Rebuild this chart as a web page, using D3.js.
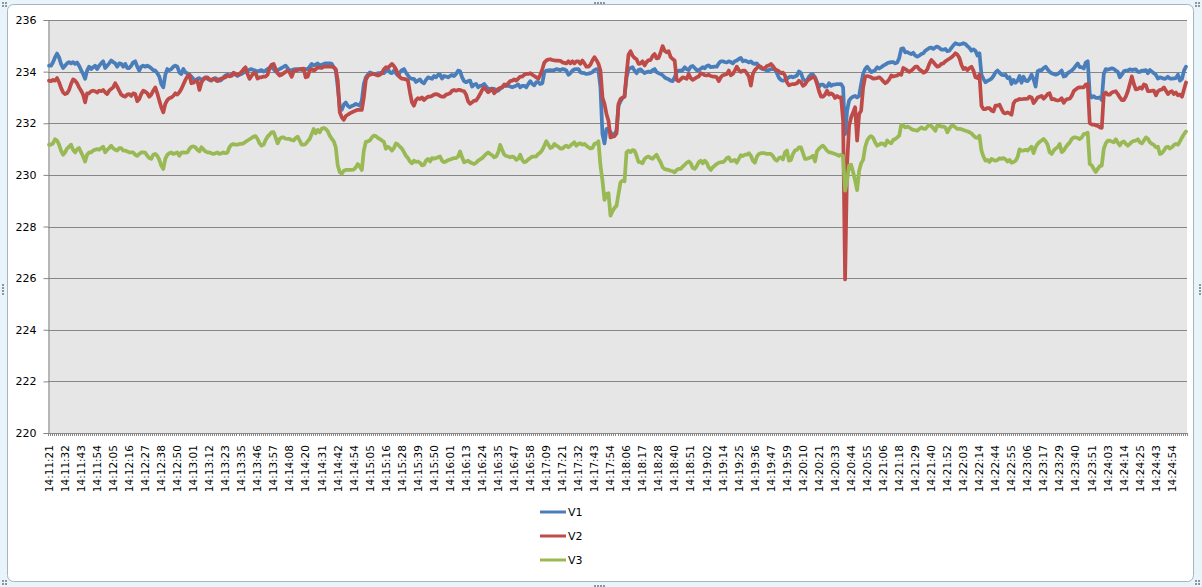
<!DOCTYPE html>
<html><head><meta charset="utf-8">
<script src="https://cdn.jsdelivr.net/npm/d3@7"></script>
<style>
html,body{margin:0;padding:0;background:#fff;}
svg{display:block;}
text{font-family:"DejaVu Sans",Verdana,sans-serif;fill:#000;}
</style></head><body>
<svg id="chart" width="1202" height="587"></svg>
<script>
// ---- data ----
const tickLabels = ["14:11:21","14:11:32","14:11:43","14:11:54","14:12:05","14:12:16","14:12:27","14:12:38","14:12:50","14:13:01",
"14:13:12","14:13:23","14:13:35","14:13:46","14:13:57","14:14:08","14:14:20","14:14:31","14:14:42","14:14:54",
"14:15:05","14:15:16","14:15:28","14:15:39","14:15:50","14:16:01","14:16:13","14:16:24","14:16:35","14:16:47",
"14:16:58","14:17:09","14:17:21","14:17:32","14:17:43","14:17:54","14:18:06","14:18:17","14:18:28","14:18:40",
"14:18:51","14:19:02","14:19:14","14:19:25","14:19:36","14:19:47","14:19:59","14:20:10","14:20:21","14:20:33",
"14:20:44","14:20:55","14:21:06","14:21:18","14:21:29","14:21:40","14:21:52","14:22:03","14:22:14","14:22:44",
"14:22:55","14:23:06","14:23:17","14:23:29","14:23:40","14:23:51","14:24:03","14:24:14","14:24:25","14:24:43","14:24:54"];
const labelEvery = 8;
const yTicks = [220,222,224,226,228,230,232,234,236];
const seriesNames = ["V1","V2","V3"];

const V1 = [
234.23,234.23,234.36,234.55,234.70,234.55,234.30,234.14,234.23,234.32,
234.37,234.32,234.37,234.30,234.35,234.23,234.06,233.91,233.72,234.04,
234.19,234.10,234.17,234.23,234.10,234.23,234.32,234.40,234.14,234.23,
234.32,234.43,234.37,234.32,234.19,234.32,234.30,234.19,234.30,234.14,
234.14,234.23,234.36,234.40,234.19,234.04,234.19,234.23,234.19,234.23,
234.19,234.13,234.06,234.04,233.94,233.81,233.52,233.39,233.88,234.10,
234.06,234.10,234.19,234.23,234.19,233.97,233.91,234.10,233.97,233.94,
233.88,233.81,233.72,233.65,233.72,233.75,233.68,233.72,233.78,233.72,
233.68,233.65,233.72,233.75,233.70,233.65,233.68,233.78,233.85,233.88,
233.85,233.88,233.91,233.88,233.83,233.88,233.91,233.96,234.00,234.04,
234.08,234.10,234.06,234.04,234.00,234.04,234.06,234.00,234.04,234.10,
234.14,234.17,234.10,234.00,234.06,234.10,
234.14,234.19,234.23,234.13,
234.06,234.04,234.09,234.10,234.10,234.09,234.06,234.09,234.10,234.10,
234.19,234.30,234.24,234.27,234.32,234.23,234.27,234.30,234.32,234.32,
234.32,234.30,234.17,234.06,233.39,232.62,232.52,232.72,232.80,232.68,
232.62,232.67,232.70,232.75,232.72,232.68,232.88,233.52,233.78,233.88,
233.97,233.94,233.91,233.91,233.94,233.94,233.97,233.94,234.01,234.10,
233.97,233.94,234.04,233.94,233.85,233.97,234.06,234.10,233.97,233.85,
233.75,233.72,233.72,233.60,233.65,233.70,233.59,233.55,233.68,233.78,
233.75,233.72,233.83,233.78,233.87,233.88,233.73,233.83,233.81,233.78,
233.83,233.87,233.83,233.91,234.04,234.01,233.78,233.63,233.59,233.63,
233.65,233.42,233.50,233.52,233.39,233.45,233.46,233.52,233.42,233.33,
233.33,233.34,233.33,233.29,233.26,233.34,233.39,233.45,233.46,233.45,
233.42,233.39,
233.42,233.46,233.50,233.39,233.45,233.45,233.39,233.52,
233.63,233.52,233.47,233.59,233.59,233.52,233.55,233.97,234.04,234.05,
234.06,234.04,234.06,234.10,234.08,234.06,234.10,234.09,234.04,233.88,
233.94,234.04,234.09,234.10,234.10,233.98,233.95,233.94,233.91,233.92,
233.94,233.98,234.06,234.10,234.04,233.39,231.58,231.22,231.78,231.78,
231.65,231.56,231.58,231.71,232.68,232.85,232.98,233.03,233.78,234.09,
234.14,234.17,234.04,233.94,234.06,234.09,234.01,233.94,233.98,234.00,
233.98,234.06,234.10,233.98,233.94,233.91,233.86,233.78,233.73,233.70,
233.65,233.63,233.78,233.98,234.04,234.04,234.06,234.17,234.10,234.06,
234.19,234.22,234.14,234.06,234.06,234.11,234.17,234.13,234.22,234.24,
234.17,234.18,234.19,234.19,234.32,234.40,234.40,234.37,234.36,234.40,
234.37,234.32,234.40,234.43,234.49,234.53,234.40,234.43,
234.40,234.36,
234.40,234.32,234.30,234.32,234.22,234.13,234.10,234.09,234.04,234.06,
234.10,234.10,234.08,233.94,233.76,233.68,233.65,233.68,233.72,233.78,
233.81,233.78,233.81,233.85,234.01,233.94,233.72,233.65,233.65,233.81,
233.88,233.88,233.78,233.59,233.42,233.50,233.50,233.42,233.42,233.55,
233.45,233.50,233.50,233.52,233.52,233.52,233.39,231.58,232.49,232.88,
232.98,233.03,233.06,233.00,233.06,233.52,233.91,234.10,234.19,234.09,
233.98,234.01,234.06,234.17,234.12,234.17,234.23,234.27,234.32,234.35,
234.37,234.37,234.32,234.35,234.53,234.88,234.90,234.75,234.76,234.71,
234.68,234.73,234.62,234.58,234.62,234.68,234.71,234.81,234.86,234.92,
234.93,234.88,234.94,234.97,234.92,234.85,234.85,234.88,234.79,234.81,
234.92,235.02,235.10,235.07,235.05,235.07,235.10,235.07,234.99,234.92,
234.81,234.86,234.81,234.62,234.71,
233.88,233.72,233.59,233.64,233.68,
233.73,233.83,233.97,234.04,233.96,233.88,233.86,233.88,233.75,233.78,
233.52,233.68,233.57,233.65,233.83,233.57,233.80,233.65,233.63,233.73,
233.88,233.70,233.42,234.01,234.06,234.05,234.14,234.19,234.09,233.99,
233.94,233.91,233.88,233.91,233.96,234.04,233.81,233.83,233.94,233.99,
234.04,234.12,234.22,234.32,234.17,234.17,234.12,234.35,234.40,233.13,
233.00,233.05,232.98,232.98,233.00,232.90,233.91,234.10,234.08,234.10,
234.13,234.10,234.04,233.99,233.78,233.88,234.01,234.04,234.04,234.09,
234.06,234.08,234.09,233.99,233.99,234.04,234.04,234.06,233.94,234.06,
234.00,233.94,233.87,233.73,233.78,233.75,233.72,233.74,233.80,233.73,
233.73,233.74,233.75,233.88,233.65,233.72,234.04,234.19];

const V2 = [
233.65,233.63,233.68,233.65,233.75,233.59,233.37,233.20,233.13,233.16,
233.29,233.52,233.70,233.65,233.55,233.39,233.26,233.11,232.81,233.16,
233.16,233.24,233.26,233.24,233.19,233.26,233.24,233.29,233.20,233.13,
233.26,233.33,233.39,233.55,233.42,233.26,233.11,233.06,233.03,233.11,
233.13,233.06,233.16,233.13,232.85,232.94,233.13,233.26,233.22,233.16,
233.03,233.11,233.26,233.39,233.16,232.88,232.62,232.42,232.75,232.90,
232.97,233.00,233.06,233.16,233.11,233.20,233.33,233.50,233.68,233.81,
233.88,233.55,233.57,233.63,233.65,233.29,233.57,233.70,233.75,233.78,
233.70,233.68,233.72,233.68,233.63,233.70,233.73,233.75,233.78,233.85,
233.82,233.83,233.96,233.91,233.88,233.91,233.99,234.09,234.17,233.91,
233.72,233.83,233.94,233.94,233.73,233.78,233.78,233.81,233.81,233.88,
234.14,234.27,234.30,234.10,233.94,233.85,
233.88,233.94,233.99,234.04,
233.97,233.80,234.01,234.04,234.06,234.10,234.11,234.12,233.78,233.80,
234.04,234.10,234.04,234.09,234.17,234.15,234.14,234.19,234.19,234.19,
234.19,234.19,234.17,234.09,233.65,232.42,232.23,232.13,232.28,232.33,
232.38,232.42,232.46,232.49,232.52,232.52,232.52,233.00,233.68,233.83,
233.88,233.91,233.91,233.88,233.85,233.88,233.94,234.09,234.17,234.15,
234.22,234.30,234.22,234.09,233.91,233.78,233.73,233.72,233.70,233.65,
233.20,232.81,232.68,232.90,232.97,232.94,233.00,232.90,232.97,233.03,
233.03,233.06,233.11,233.13,233.11,233.06,233.03,233.03,233.11,233.13,
233.16,233.26,233.29,233.26,233.29,233.29,233.26,233.24,233.11,232.85,
232.75,232.81,232.88,232.88,233.00,233.13,233.29,233.39,233.29,233.20,
233.26,233.33,233.16,233.24,233.33,233.37,233.39,233.50,233.46,233.55,
233.63,233.65,
233.70,233.65,233.73,233.81,233.81,233.88,233.91,233.91,
233.94,233.88,233.83,233.78,233.72,233.88,234.09,234.35,234.43,234.47,
234.48,234.45,234.44,234.43,234.43,234.42,234.36,234.34,234.32,234.40,
234.32,234.40,234.32,234.40,234.40,234.30,234.43,234.32,234.19,234.19,
234.27,234.43,234.56,234.45,234.30,234.04,233.00,232.75,232.36,232.10,
231.45,231.48,231.50,231.61,232.75,232.94,233.00,233.03,233.91,234.66,
234.79,234.62,234.53,234.48,234.30,234.32,234.40,234.24,234.37,234.45,
234.45,234.60,234.68,234.51,234.53,234.75,234.99,234.81,234.75,234.79,
234.56,234.49,234.43,233.68,233.63,233.70,233.78,233.75,233.72,233.91,
233.75,233.68,233.73,233.78,233.81,233.94,233.91,233.86,233.85,233.88,
233.83,233.81,233.81,233.78,233.63,233.78,233.86,233.88,233.91,234.04,
233.86,233.91,234.04,234.19,234.06,233.99,234.04,234.04,
233.94,233.81,
233.46,233.91,234.06,234.14,234.22,234.19,234.11,234.14,234.22,234.24,
234.30,234.22,234.10,234.06,234.01,233.94,233.96,233.85,233.59,233.47,
233.50,233.52,233.52,233.55,233.65,233.59,233.45,233.50,233.63,233.70,
233.75,233.80,233.75,233.52,233.24,233.03,233.03,233.11,233.26,233.11,
233.16,233.11,232.98,233.06,233.00,233.00,232.10,225.95,230.42,231.90,
232.23,232.42,232.62,231.33,232.36,232.49,233.39,233.80,233.83,233.81,
233.78,233.73,233.74,233.75,233.78,233.72,233.63,233.55,233.60,233.70,
233.85,233.81,233.83,233.85,233.91,233.88,234.14,234.10,234.04,233.99,
234.04,234.11,234.19,234.19,234.09,234.04,233.96,233.99,234.09,234.30,
234.45,234.37,234.27,234.19,234.22,234.30,234.32,234.40,234.45,234.50,
234.55,234.62,234.71,234.66,234.53,234.27,234.10,234.14,234.06,234.14,
234.19,234.04,233.78,233.75,233.88,
232.68,232.55,232.55,232.59,232.59,
232.49,232.46,232.68,232.68,232.72,232.55,232.41,232.38,232.42,232.38,
232.33,232.77,232.88,232.90,232.94,232.93,232.94,232.94,232.95,233.03,
233.00,232.78,232.88,233.00,233.03,233.06,232.95,233.03,233.13,233.16,
232.93,232.94,232.90,232.88,232.90,232.97,232.79,232.90,232.94,232.95,
233.06,233.24,233.31,233.37,233.39,233.39,233.39,233.50,233.52,232.00,
231.95,231.95,231.92,231.90,231.84,231.82,233.11,233.19,233.11,233.11,
233.19,233.22,233.24,233.13,233.00,232.90,232.90,233.03,233.24,233.52,
233.81,233.52,233.31,233.33,233.39,233.34,233.50,233.47,233.24,233.24,
233.26,233.26,233.08,233.24,233.29,233.31,233.39,233.26,233.13,233.21,
233.24,233.13,233.19,233.08,233.11,233.03,233.31,233.58];

const V3 = [
231.17,231.17,231.22,231.38,231.33,231.17,230.94,230.78,230.87,231.02,
231.09,231.17,230.97,230.87,230.99,231.04,230.87,230.71,230.52,230.78,
230.87,230.87,230.94,230.97,231.00,230.97,231.03,231.09,230.87,230.97,
231.04,231.13,231.03,230.97,230.94,231.04,231.04,230.94,230.94,230.91,
230.87,230.87,230.87,230.78,230.74,230.81,230.87,230.87,230.86,230.74,
230.65,230.62,230.78,230.81,230.74,230.58,230.36,230.23,230.62,230.78,
230.84,230.87,230.81,230.84,230.87,230.74,230.86,230.87,230.86,230.87,
231.00,231.09,231.10,231.07,230.97,230.91,231.07,230.99,230.91,230.87,
230.87,230.84,230.81,230.84,230.87,230.81,230.84,230.87,230.84,230.87,
231.07,231.17,231.20,231.17,231.17,231.20,231.20,231.22,231.28,231.33,
231.38,231.43,231.48,231.50,231.39,231.22,231.13,231.17,231.35,231.48,
231.56,231.65,231.66,231.45,231.22,231.39,
231.45,231.45,231.40,231.39,
231.39,231.35,231.33,231.43,231.48,231.33,231.17,231.17,231.20,231.30,
231.39,231.58,231.78,231.61,231.74,231.65,231.79,231.82,231.78,231.69,
231.52,231.40,231.30,231.07,230.36,230.10,230.05,230.16,230.19,230.19,
230.19,230.19,230.21,230.29,230.42,230.32,230.19,230.94,231.28,231.30,
231.33,231.45,231.52,231.50,231.43,231.39,231.33,231.28,231.01,231.09,
231.04,230.94,231.04,231.22,231.17,231.09,231.02,230.88,230.74,230.65,
230.52,230.45,230.55,230.50,230.52,230.47,230.37,230.39,230.55,230.62,
230.52,230.65,230.63,230.65,230.68,230.71,230.55,230.49,230.52,230.57,
230.60,230.62,230.65,230.65,230.71,230.91,230.68,230.49,230.52,230.55,
230.49,230.45,230.42,230.47,230.55,230.60,230.65,230.73,230.81,230.87,
230.81,230.76,230.68,230.71,230.87,231.16,230.97,230.79,230.73,230.71,
230.68,230.71,
230.68,230.58,230.63,230.78,230.58,230.49,230.52,230.60,
230.65,230.71,230.71,230.72,230.81,230.87,230.96,231.13,231.30,231.17,
231.04,231.07,231.20,231.13,231.09,231.02,231.02,231.09,231.13,231.07,
231.13,231.20,231.26,231.13,231.20,231.22,231.17,231.20,231.13,231.07,
231.02,231.04,231.20,231.22,231.30,230.36,229.78,229.03,229.26,229.29,
228.42,228.59,228.72,228.80,229.26,229.71,229.78,229.75,230.87,230.94,
230.88,230.96,230.94,230.74,230.50,230.49,230.45,230.62,230.68,230.71,
230.65,230.62,230.71,230.78,230.62,230.49,230.29,230.23,230.20,230.19,
230.16,230.14,230.10,230.19,230.23,230.23,230.32,230.39,230.47,230.52,
230.45,230.27,230.23,230.34,230.49,230.55,230.45,230.55,230.47,230.29,
230.19,230.29,230.36,230.42,230.47,230.49,230.49,230.55,230.65,230.68,
230.53,230.55,230.58,230.47,230.62,230.76,230.73,230.78,
230.78,230.84,
230.74,230.55,230.47,230.71,230.81,230.84,230.84,230.84,230.81,230.81,
230.81,230.73,230.60,230.55,230.65,230.68,230.60,230.87,230.94,230.55,
230.58,230.81,230.94,230.97,231.07,231.07,230.84,230.62,230.62,230.65,
230.68,230.74,230.52,230.92,231.01,231.09,231.13,231.04,230.94,230.88,
230.86,230.84,230.81,230.78,230.74,230.78,230.73,229.39,229.78,230.36,
230.39,230.10,229.78,229.41,230.16,230.45,230.58,231.07,231.33,231.45,
231.50,231.43,231.26,231.13,231.17,231.22,231.20,231.14,231.33,231.26,
231.22,231.35,231.39,231.45,231.52,231.94,231.91,231.84,231.87,231.84,
231.78,231.74,231.73,231.71,231.78,231.84,231.79,231.78,231.87,231.94,
231.89,231.81,231.71,231.92,231.90,231.87,231.87,231.84,231.65,231.79,
231.90,231.90,231.84,231.78,231.78,231.77,231.74,231.71,231.69,231.65,
231.61,231.52,231.45,231.43,231.52,
230.94,230.71,230.55,230.58,230.50,
230.62,230.58,230.55,230.58,230.64,230.62,230.65,230.60,230.52,230.58,
230.47,230.50,230.55,230.68,230.99,230.94,230.94,230.97,230.94,231.02,
231.09,230.84,231.07,231.20,231.28,231.33,231.39,231.30,231.17,230.88,
230.81,230.94,231.02,231.07,231.20,230.88,230.94,231.07,231.17,231.25,
231.39,231.45,231.45,231.43,231.39,231.45,231.58,231.60,231.63,230.42,
230.37,230.23,230.11,230.23,230.34,230.36,231.01,231.22,231.33,231.33,
231.29,231.26,231.38,231.25,231.14,231.26,231.30,231.20,231.13,231.20,
231.28,231.32,231.33,231.38,231.26,231.22,231.33,231.45,231.40,231.26,
231.20,231.16,231.07,231.09,230.81,230.84,230.94,231.07,231.09,231.02,
231.07,231.16,231.20,231.17,231.30,231.45,231.58,231.68];

const seriesValues = [V1, V2, V3];
const seriesColors = ["#4A7EBB", "#BE4B48", "#98B954"];

// ---- drawing ----
const svg = d3.select("#chart");
const plot = {left: 48, right: 1187, top: 20, bottom: 433};

// chart frame (Excel style, selected chart)
svg.append("rect").attr("x", 0).attr("y", 0).attr("width", 1202).attr("height", 587).attr("fill", "#E9F3FA");
svg.append("rect").attr("x", 7.5).attr("y", 4.5).attr("width", 1186).attr("height", 577)
  .attr("rx", 6).attr("fill", "#fff").attr("stroke", "#A7B4C2").attr("stroke-width", 1);

// resize handles (dotted grips)
const grips = [[600, 2, "h"], [600, 585, "h"], [2, 290, "v"], [1199, 290, "v"],
               [4, 4, "c"], [1197, 4, "c"], [4, 582, "c"], [1197, 582, "c"]];
const gripG = svg.append("g").attr("fill", "#8C96A0");
grips.forEach(([gx, gy, t]) => {
  const pts = t === "h" ? [[-6,0],[-3,0],[0,0],[3,0]] : t === "v" ? [[0,-6],[0,-3],[0,0],[0,3]] : [[-2,-2],[1,-2],[-2,1],[1,1]];
  pts.forEach(([dx, dy]) => gripG.append("rect").attr("x", gx + dx).attr("y", gy + dy).attr("width", 2).attr("height", 2));
});

const n = V1.length;
const x = d3.scaleBand().domain(d3.range(n)).range([plot.left, plot.right]).padding(0);
const cx = i => x(i) + x.bandwidth() / 2;
const y = d3.scaleLinear().domain([220, 236]).range([plot.bottom, plot.top]);

svg.append("rect").attr("x", plot.left).attr("y", plot.top)
  .attr("width", plot.right - plot.left).attr("height", plot.bottom - plot.top).attr("fill", "#E6E6E6");

// gridlines
svg.append("g").selectAll("line").data(yTicks).join("line")
  .attr("x1", plot.left).attr("x2", plot.right)
  .attr("y1", d => Math.round(y(d)) + 0.5).attr("y2", d => Math.round(y(d)) + 0.5)
  .attr("stroke", "#868686").attr("stroke-width", 1);

// y axis
const yAxis = svg.append("g").attr("transform", `translate(${plot.left + 0.5},0)`)
  .call(d3.axisLeft(y).tickValues(yTicks).tickSize(5).tickPadding(7).tickFormat(d3.format("d")));
yAxis.select(".domain").attr("stroke", "#868686");
yAxis.selectAll(".tick line").attr("stroke", "#868686");
yAxis.selectAll("text").attr("font-size", "11px").attr("font-family", "DejaVu Sans");

// x axis tick marks at category boundaries
const bounds = d3.range(n + 1).map(i => i < n ? x(i) : plot.right);
svg.append("g").selectAll("line").data(bounds).join("line")
  .attr("x1", d => Math.round(d) + 0.5).attr("x2", d => Math.round(d) + 0.5)
  .attr("y1", plot.bottom).attr("y2", plot.bottom + 3)
  .attr("stroke", "#868686").attr("stroke-width", 1);

// x axis labels
const labelIdx = tickLabels.map((d, k) => k * labelEvery);
const xAxis = svg.append("g").attr("transform", `translate(0,${plot.bottom})`)
  .call(d3.axisBottom(x).tickValues(labelIdx).tickSize(0).tickFormat(i => tickLabels[i / labelEvery]));
xAxis.select(".domain").attr("stroke", "#868686");
xAxis.selectAll("text")
  .attr("font-size", "10.5px").attr("font-family", "DejaVu Sans")
  .attr("transform", "rotate(-90)").attr("text-anchor", "end")
  .attr("x", -12).attr("y", 0).attr("dy", "0.36em");

// series lines
const line = d3.line().x((d, i) => cx(i)).y(d => y(d));
seriesValues.forEach((vals, s) => {
  svg.append("path").datum(vals).attr("d", line)
    .attr("fill", "none").attr("stroke", seriesColors[s]).attr("stroke-width", 3.75)
    .attr("stroke-linejoin", "round").attr("stroke-linecap", "round");
});

// legend
const legendY = [512, 536, 560];
const lg = svg.append("g");
seriesNames.forEach((name, s) => {
  lg.append("line").attr("x1", 540).attr("x2", 566).attr("y1", legendY[s]).attr("y2", legendY[s])
    .attr("stroke", seriesColors[s]).attr("stroke-width", 3);
  lg.append("text").attr("x", 568).attr("y", legendY[s]).attr("dy", "0.36em")
    .attr("font-size", "11px").text(name);
});
</script>
</body></html>
